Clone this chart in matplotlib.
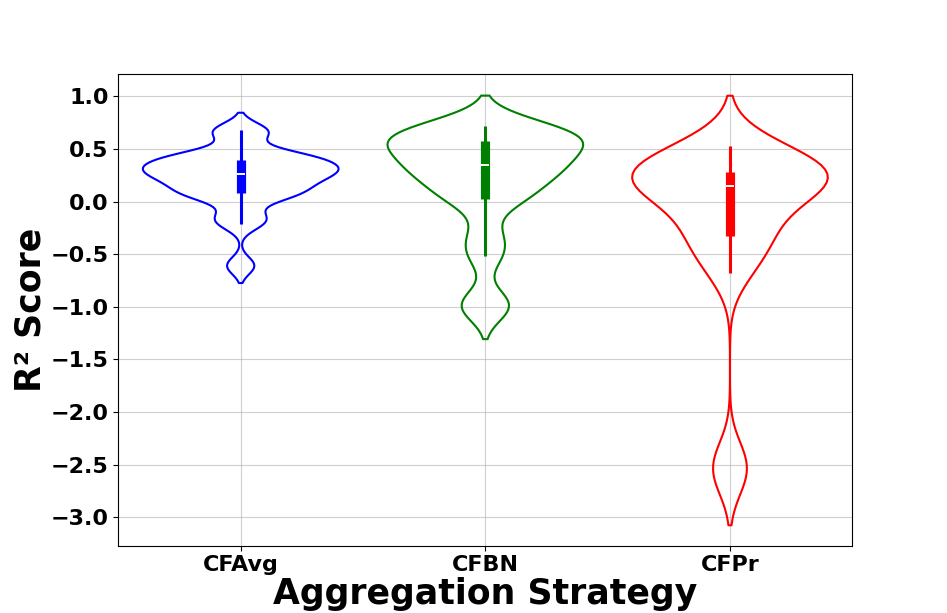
import matplotlib

matplotlib.use("Agg")
import matplotlib.pyplot as plt
import numpy as np

# R² scores per aggregation strategy
strategies = ["CFAvg", "CFBN", "CFPr"]
colors = ["blue", "green", "red"]

cfavg_scores = [-0.61, -0.21, -0.14, 0.03, 0.06, 0.09, 0.14, 0.18, 0.22, 0.25,
                0.28, 0.30, 0.32, 0.34, 0.39, 0.41, 0.44, 0.46, 0.65, 0.68]
cfbn_scores = [-1.02, -0.96, -0.52, -0.33, 0.00, 0.035, 0.15, 0.22, 0.27, 0.33,
               0.36, 0.42, 0.47, 0.52, 0.575, 0.595, 0.62, 0.66, 0.70, 0.72]
cfpr_scores = [-2.60, -2.47, -0.68, -0.52, -0.36, -0.32, -0.20, -0.05, 0.05, 0.13,
               0.16, 0.20, 0.23, 0.25, 0.275, 0.29, 0.33, 0.40, 0.46, 0.53]

groups = [cfavg_scores, cfbn_scores, cfpr_scores]


def violin_profile(values, bw_adjust=0.5, cut=2.0, gridsize=100):
    x = np.asarray(values, dtype=float)
    n = len(x)
    bw = np.std(x, ddof=1) * n ** (-1 / 5) * bw_adjust
    grid = np.linspace(x.min() - cut * bw, x.max() + cut * bw, gridsize)
    dens = np.exp(-0.5 * ((grid[:, None] - x[None, :]) / bw) ** 2).sum(axis=1)
    dens /= n * bw * np.sqrt(2 * np.pi)
    return grid, dens


fig, ax = plt.subplots(figsize=(9.47, 6.13), dpi=100)
ax.set_axisbelow(True)
ax.grid(True, color="#b0b0b0", alpha=0.6, linewidth=0.8)

half_width = 0.4
for pos, (values, color) in enumerate(zip(groups, colors)):
    grid, dens = violin_profile(values)
    dens = dens / dens.max() * half_width
    ax.fill_betweenx(grid, pos - dens, pos + dens, facecolor="none",
                     edgecolor=color, linewidth=1.5, zorder=2)

    q1, med, q3 = np.percentile(values, [25, 50, 75])
    iqr = q3 - q1
    arr = np.asarray(values)
    lo = arr[arr >= q1 - 1.5 * iqr].min()
    hi = arr[arr <= q3 + 1.5 * iqr].max()
    ax.plot([pos, pos], [lo, hi], color=color, linewidth=2.2,
            solid_capstyle="butt", zorder=3)
    ax.plot([pos, pos], [q1, q3], color=color, linewidth=6.6,
            solid_capstyle="butt", zorder=3)
    ax.plot([pos], [med], marker="_", color="white", markersize=5.5,
            markeredgewidth=1.4, zorder=4)

ax.set_xlim(-0.5, 2.5)
ax.set_ylim(-3.268, 1.216)
ax.set_xticks(range(len(strategies)))
ax.set_xticklabels(strategies)
ax.set_yticks(np.arange(-3.0, 1.01, 0.5))

for label in ax.get_xticklabels() + ax.get_yticklabels():
    label.set_fontsize(16)
    label.set_fontweight("bold")

ax.set_xlabel("Aggregation Strategy", fontsize=25, fontweight="bold", labelpad=1)
ax.set_ylabel("R² Score", fontsize=25, fontweight="bold", labelpad=2)

fig.savefig("out.png", dpi=100)
